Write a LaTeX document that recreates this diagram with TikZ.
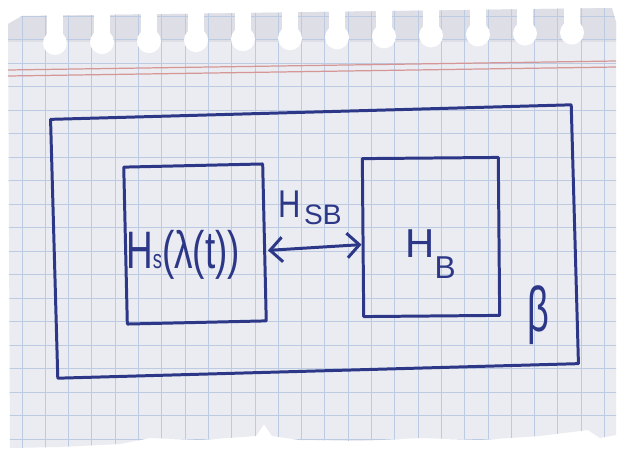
\documentclass[tikz,border=0pt]{standalone}
\usepackage{graphicx}
\usepackage{fontspec}
\newfontfamily\handfont{Liberation Sans}
\usetikzlibrary{arrows.meta,positioning}

\definecolor{pen}{RGB}{45,55,135}
\definecolor{paper}{RGB}{234,236,241}
\definecolor{tabgrey}{RGB}{222,223,230}
\definecolor{gridline}{RGB}{188,202,226}
\definecolor{margin}{RGB}{214,150,150}

\begin{document}
\begin{tikzpicture}[x=0.02cm, y=-0.02cm, >={Straight Barb[length=7pt,width=14pt]}]
    \tikzset{
      box/.style={draw=pen, line width=1.7pt, line join=round, inner sep=0pt},
      hand/.style={text=pen, font=\handfont, inner sep=0pt},
    }
    \useasboundingbox[fill=white] (0,0) rectangle (620,454);

    % the sheet
    \begin{scope}
      \clip (8,24) -- (22,16) -- (612,8) -- (616,22) -- (616,435) -- (600,438) -- (588,430)
        -- (540,436) -- (480,440) -- (420,438) -- (360,441) -- (300,440) -- (272,436)
        -- (264,424) -- (256,436) -- (200,440) -- (150,438) -- (120,444) -- (60,447) -- (10,448) -- cycle;
      \fill[paper] (0,0) rectangle (620,454);
      \fill[tabgrey] (0,0) rectangle (620,42);
      \foreach \i in {0,...,26}
        \draw[gridline, line width=0.5pt] (22+23.3*\i,0) -- (22+23.3*\i,454);
      \foreach \j in {0,...,19}
        \draw[gridline, line width=0.5pt] (0,16+23.5*\j) -- (620,16+23.5*\j);
      \draw[margin, line width=0.7pt] (8,70) -- (616,61);
      \draw[margin, line width=0.7pt] (8,76) -- (616,67);
    \end{scope}

    % punched holes
    \foreach \i in {0,...,11} {
      \pgfmathsetmacro\hx{55+47*\i}
      \pgfmathsetmacro\hy{43-0.95*\i}
      \fill[white] (\hx,\hy) circle[radius=12];
      \fill[white] (\hx-8,0) rectangle (\hx+8,\hy);
    }

    % boxes
    \node[box, rotate=1.6, minimum width=10.42cm, minimum height=5.18cm] (env) at (314.5,241.5) {};
    \node[box, rotate=1.3, minimum width=2.78cm, minimum height=3.14cm] (sys) at (195,244) {};
    \node[box, rotate=0.5, minimum width=2.72cm, minimum height=3.16cm] (bath) at (431,237) {};

    % labels
    \node[hand, anchor=base west] (hs) at (126,268)
      {\scalebox{0.7}[1]{\fontsize{30}{30}\selectfont H{\fontsize{15}{15}\selectfont s}(λ(t))}};
    \node[hand, anchor=base west] (hb) at (405,257)
      {\fontsize{23}{23}\selectfont H\raisebox{-12pt}{\fontsize{18}{18}\selectfont B}};
    \node[hand, anchor=base west] (hsb) at (278,217)
      {\scalebox{0.8}[1]{\fontsize{22}{22}\selectfont H}\kern2pt\raisebox{-4pt}{\fontsize{16}{16}\selectfont SB}};
    \node[hand] (beta) at (538,315) {\scalebox{0.6}[1]{\fontsize{36}{36}\selectfont β}};

    \draw[pen, line width=1.7pt, <->] ([shift={(2,8)}]sys.east) -- ([shift={(0,7)}]bath.west);
\end{tikzpicture}
\end{document}
